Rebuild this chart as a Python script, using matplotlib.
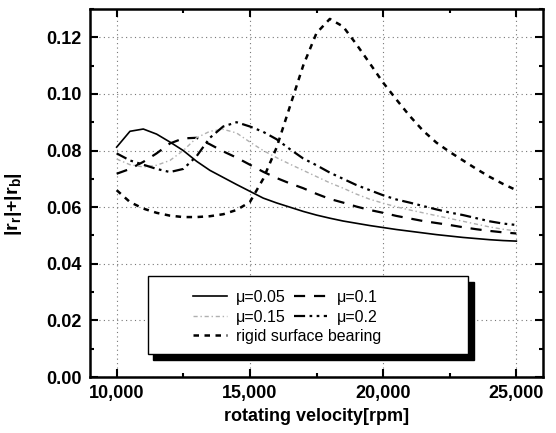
import matplotlib
matplotlib.use("Agg")
import matplotlib.pyplot as plt
from matplotlib.patches import Rectangle
from matplotlib.ticker import MultipleLocator

plt.rcParams['font.family'] = ['Liberation Sans', 'DejaVu Sans']
plt.rcParams['mathtext.fontset'] = 'custom'
plt.rcParams['mathtext.rm'] = 'Liberation Sans'
plt.rcParams['mathtext.bf'] = 'Liberation Sans:bold'
plt.rcParams['mathtext.it'] = 'Liberation Sans:italic'

rpm = [10000, 10500, 11000, 11500, 12000, 12500, 13000, 13500, 14000, 14500,
       15000, 15500, 16000, 16500, 17000, 17500, 18000, 18500, 19000, 19500,
       20000, 20500, 21000, 21500, 22000, 22500, 23000, 23500, 24000, 24500, 25000]

mu005 = [0.0812, 0.0868, 0.0876, 0.0858, 0.0830, 0.0800, 0.0762, 0.0730, 0.0705, 0.0680,
         0.0656, 0.0632, 0.0615, 0.0600, 0.0585, 0.0572, 0.0561, 0.0551, 0.0543, 0.0535,
         0.0528, 0.0521, 0.0515, 0.0509, 0.0503, 0.0498, 0.0493, 0.0489, 0.0485, 0.0482, 0.0480]

mu010 = [0.0718, 0.0735, 0.0760, 0.0790, 0.0825, 0.0843, 0.0845, 0.0822, 0.0797, 0.0775,
         0.0750, 0.0725, 0.0703, 0.0684, 0.0667, 0.0647, 0.0629, 0.0616, 0.0602, 0.0590,
         0.0580, 0.0569, 0.0560, 0.0551, 0.0544, 0.0537, 0.0529, 0.0522, 0.0516, 0.0511, 0.0507]

mu015 = [0.0770, 0.0750, 0.0742, 0.0748, 0.0765, 0.0800, 0.0845, 0.0868, 0.0875, 0.0862,
         0.0830, 0.0800, 0.0775, 0.0752, 0.0730, 0.0708, 0.0686, 0.0667, 0.0646, 0.0628,
         0.0614, 0.0601, 0.0590, 0.0580, 0.0570, 0.0560, 0.0550, 0.0540, 0.0530, 0.0522, 0.0516]

mu020 = [0.0790, 0.0765, 0.0750, 0.0735, 0.0724, 0.0735, 0.0780, 0.0845, 0.0885, 0.0900,
         0.0885, 0.0866, 0.0840, 0.0805, 0.0772, 0.0748, 0.0722, 0.0700, 0.0678, 0.0660,
         0.0642, 0.0627, 0.0616, 0.0604, 0.0592, 0.0581, 0.0572, 0.0561, 0.0550, 0.0542, 0.0537]

rigid = [0.0660, 0.0618, 0.0595, 0.0580, 0.0570, 0.0565, 0.0565, 0.0568, 0.0575, 0.0590,
         0.0618, 0.0700, 0.0810, 0.0955, 0.1100, 0.1215, 0.1265, 0.1238, 0.1175, 0.1108,
         0.1040, 0.0980, 0.0922, 0.0870, 0.0828, 0.0795, 0.0765, 0.0735, 0.0707, 0.0682, 0.0660]

xticks = [10000, 15000, 20000, 25000]
xticklabels = ["10,000", "15,000", "20,000", "25,000"]
yticks = [0.00, 0.02, 0.04, 0.06, 0.08, 0.10, 0.12]
yticklabels = ["0.00", "0.02", "0.04", "0.06", "0.08", "0.10", "0.12"]

W, H = 556, 433
fig = plt.figure(figsize=(W / 100, H / 100), dpi=100)
ax = fig.add_axes([90 / W, 1 - 377 / H, (543 - 90) / W, (377 - 9) / H])

l1, = ax.plot(rpm, mu005, color='black', lw=1.2, ls='-', zorder=3)
l2, = ax.plot(rpm, mu010, color='black', lw=1.6, ls=(0, (5, 4)), zorder=3)
l3, = ax.plot(rpm, mu015, color='#b0b0b0', lw=1.0, ls=(0, (3, 2, 1, 2)), zorder=3)
l4, = ax.plot(rpm, mu020, color='black', lw=1.6, ls=(0, (5, 2, 1.2, 2, 1.2, 2)), zorder=3)
l5, = ax.plot(rpm, rigid, color='black', lw=1.8, ls=(0, (2.2, 2.2)), zorder=3)

ax.set_xlim(9000, 26000)
ax.set_ylim(0, 0.13)
ax.set_xticks(xticks)
ax.set_xticklabels(xticklabels)
ax.set_yticks(yticks)
ax.set_yticklabels(yticklabels)
ax.xaxis.set_minor_locator(MultipleLocator(2500))
ax.yaxis.set_minor_locator(MultipleLocator(0.01))
ax.tick_params(which='both', direction='in', top=True, right=True, width=1.5)
ax.tick_params(which='major', length=6, labelsize=13, pad=6)
ax.tick_params(which='minor', length=3)
for lab in ax.get_xticklabels() + ax.get_yticklabels():
    lab.set_fontweight('bold')
for sp in ax.spines.values():
    sp.set_linewidth(1.8)
ax.grid(True, which='major', color='#777777', ls=(0, (1, 3)), lw=0.8, zorder=1)

ax.set_xlabel('rotating velocity[rpm]', fontsize=13, fontweight='bold', labelpad=4)
ax.set_ylabel(r'|r$_\mathbf{r}$|+|r$_\mathbf{b}$|', fontsize=14, fontweight='bold', labelpad=6)
ax.yaxis.set_label_coords(-0.145, 0.47)

# legend box with shadow
tf = fig.transFigure
shadow = Rectangle((153 / W, 1 - 360 / H), (474 - 153) / W, (360 - 282) / H,
                   transform=tf, facecolor='black', edgecolor='black', zorder=5)
box = Rectangle((148 / W, 1 - 354 / H), (468 - 148) / W, (354 - 276) / H,
                transform=tf, facecolor='white', edgecolor='black', lw=1.0, zorder=6)
ax.add_artist(shadow)
ax.add_artist(box)

lab005 = 'μ=0.05'
lab010 = 'μ=0.1'
lab015 = 'μ=0.15'
lab020 = 'μ=0.2'
labrig = 'rigid surface bearing'

leg1 = ax.legend([l1, l3, l2, l4], [lab005, lab015, lab010, lab020], ncol=2,
                 loc='upper left', bbox_to_anchor=(193 / W, 1 - 290 / H),
                 bbox_transform=tf, frameon=False, fontsize=11.5,
                 handlelength=2.1, handletextpad=0.6, columnspacing=0.5,
                 labelspacing=0.3, borderpad=0, borderaxespad=0)
leg1.set_zorder(7)
ax.add_artist(leg1)
leg2 = ax.legend([l5], [labrig], loc='upper left',
                 bbox_to_anchor=(193 / W, 1 - 329 / H), bbox_transform=tf,
                 frameon=False, fontsize=11.5, handlelength=2.1, handletextpad=0.6,
                 borderpad=0, borderaxespad=0)
leg2.set_zorder(7)

fig.savefig('out.png', dpi=100)
